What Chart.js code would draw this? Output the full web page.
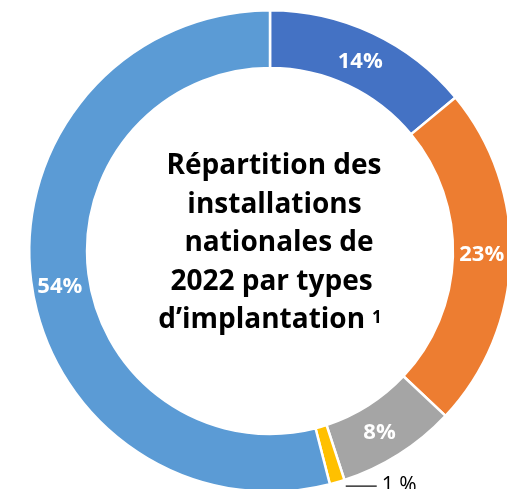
<!DOCTYPE html>
<html>
<head>
<meta charset="utf-8">
<script src="https://cdn.jsdelivr.net/npm/chart.js@4"></script>
<style>
html,body{margin:0;padding:0;background:#fff;overflow:hidden;width:507px;height:489px;}
#wrap{position:absolute;left:0;top:0;width:540px;height:502px;}
</style>
</head>
<body>
<div id="wrap"><canvas id="c" width="540" height="502"></canvas></div>
<script>
const categories = ["Type 1", "Type 2", "Type 3", "Type 4", "Type 5"];
const values = [14, 23, 8, 1, 54];
const valueLabels = ["14%", "23%", "8%", "1 %", "54%"];
const colors = ["#4472C4", "#ED7D31", "#A5A5A5", "#FFC000", "#5B9BD5"];
const centerLines = ["Répartition des", "installations", "nationales de", "2022 par types", "d\u2019implantation"];
const outsideIndex = 3;

const FONT = "'Open Sans', sans-serif";
const labelShift = [[0, 2], [0, -3], [-4, 3], [0, 0], [0, 9]];

const labelPlugin = {
  id: 'labels',
  afterDatasetsDraw(chart) {
    const ctx = chart.ctx;
    const meta = chart.getDatasetMeta(0);
    ctx.save();
    meta.data.forEach((arc, i) => {
      const p = arc.getProps(['x','y','startAngle','endAngle','innerRadius','outerRadius']);
      const mid = (p.startAngle + p.endAngle) / 2;
      if (i === outsideIndex) {
        const r = p.outerRadius + 2;
        const x0 = p.x + Math.cos(mid) * r + 8;
        const y0 = p.y + Math.sin(mid) * r + 2;
        ctx.strokeStyle = '#000';
        ctx.lineWidth = 1.2;
        ctx.beginPath();
        ctx.moveTo(x0, y0);
        ctx.lineTo(x0 + 31, y0);
        ctx.stroke();
        ctx.fillStyle = '#000';
        ctx.font = "21px " + FONT;
        ctx.textAlign = 'left';
        ctx.textBaseline = 'alphabetic';
        ctx.fillText(valueLabels[i], x0 + 36, y0 + 6);
      } else {
        const r = (p.innerRadius + p.outerRadius) / 2;
        const x = p.x + Math.cos(mid) * r + labelShift[i][0];
        const y = p.y + Math.sin(mid) * r + labelShift[i][1];
        ctx.fillStyle = '#fff';
        ctx.font = "bold 22px " + FONT;
        ctx.textAlign = 'center';
        ctx.textBaseline = 'middle';
        ctx.fillText(valueLabels[i], x, y);
      }
    });
    // center title
    const p0 = meta.data[0].getProps(['x','y']);
    ctx.fillStyle = '#000';
    ctx.font = "bold 28px " + FONT;
    ctx.textAlign = 'center';
    ctx.textBaseline = 'alphabetic';
    const lh = 38.5;
    const offs = [4, 4.5, 9, 1.5, 0];
    const startY = p0.y - 2 * lh;
    centerLines.forEach((t, k) => {
      const y = startY + k * lh;
      if (k === centerLines.length - 1) {
        const w = ctx.measureText(t).width;
        ctx.save();
        ctx.font = "bold 17px " + FONT;
        const sw = ctx.measureText("1").width;
        ctx.restore();
        const gap = 7;
        const total = w + gap + sw;
        const left = p0.x + offs[k] - total / 2;
        ctx.textAlign = 'left';
        ctx.fillText(t, left, y);
        ctx.font = "bold 17px " + FONT;
        ctx.fillText("1", left + w + gap, y - 5);
      } else {
        ctx.fillText(t, p0.x + offs[k], y);
      }
    });
    ctx.restore();
  }
};

new Chart(document.getElementById('c'), {
  type: 'doughnut',
  data: {
    labels: categories,
    datasets: [{
      data: values,
      backgroundColor: colors,
      borderColor: '#ffffff',
      borderWidth: 2.5,
    }]
  },
  options: {
    responsive: false,
    animation: false,
    cutout: '76%',
    layout: { padding: 9 },
    plugins: { legend: { display: false }, tooltip: { enabled: false } }
  },
  plugins: [labelPlugin]
});
</script>
</body>
</html>
